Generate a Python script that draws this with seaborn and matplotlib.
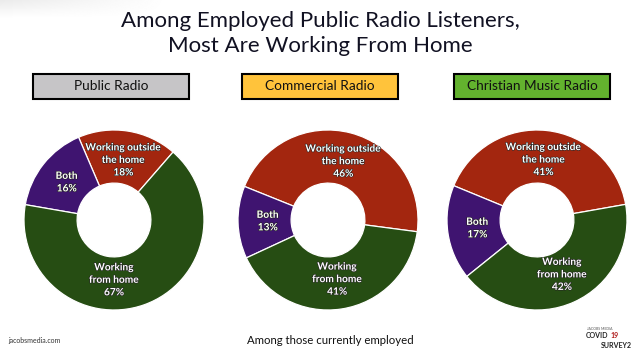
import numpy as np
import matplotlib
matplotlib.use("Agg")
import matplotlib.pyplot as plt
import matplotlib.patheffects as pe
from matplotlib.patches import Rectangle
import seaborn as sns

# data
stations = ["Public Radio", "Commercial Radio", "Christian Music Radio"]
segments = ["Working outside\nthe home", "Both", "Working\nfrom home"]
public_pct = [18, 16, 67]
commercial_pct = [46, 13, 41]
christian_pct = [41, 17, 42]

title_lines = ["Among Employed Public Radio Listeners,", "Most Are Working From Home"]
footnote = "Among those currently employed"
source = "jacobsmedia.com"

sns.set_theme(style="white")
plt.rcParams["font.family"] = ["Lato", "DejaVu Sans"]

seg_colors = ["#A3260F", "#3F1470", "#264D13"]
box_colors = ["#C6C5C7", "#FFC33B", "#63B22E"]

W, H = 640, 352
fig = plt.figure(figsize=(6.4, 3.52), dpi=100)
fig.patch.set_facecolor("white")


def fx(px):
    return px / W


def fy(py):
    # pixel from top -> figure fraction from bottom
    return 1 - py / H


# faint grey shading in the top-left corner, like the slide
grad_ax = fig.add_axes([0, fy(18), fx(170), 18 / H])
gx = np.linspace(1, 0, 200)
gy = np.linspace(0, 1, 20)[:, None]
grad = 0.92 + 0.08 * (1 - np.outer(np.ones_like(gy[:, 0]), gx) * (1 - gy))
grad_ax.imshow(grad, cmap="gray", vmin=0, vmax=1, aspect="auto", extent=[0, 1, 0, 1])
grad_ax.axis("off")

# title
fig.text(0.5, fy(21), title_lines[0], ha="center", va="center", fontsize=16, color="#111122")
fig.text(0.5, fy(46), title_lines[1], ha="center", va="center", fontsize=16, color="#111122")

# header boxes
box_x = [33, 242, 454]
box_w = 156
for name, x0, c in zip(stations, box_x, box_colors):
    fig.patches.append(Rectangle((fx(x0), fy(99)), fx(box_w), 25 / H,
                                 transform=fig.transFigure, facecolor=c,
                                 edgecolor="black", linewidth=1.5))
    fig.text(fx(x0 + box_w / 2), fy(86.5), name, ha="center", va="center",
             fontsize=9.8, color="#111111")

# donuts
centers = [114, 328, 537]
starts = [49, -7.5, 10]
size = 180
for vals, cx, start in zip([public_pct, commercial_pct, christian_pct], centers, starts):
    ax = fig.add_axes([fx(cx - size / 2), fy(220 + size / 2), fx(size), size / H])
    labels = [f"{s}\n{v}%" for s, v in zip(segments, vals)]
    wedges, texts = ax.pie(vals, labels=labels, colors=seg_colors, startangle=start,
                           counterclock=True, radius=1, labeldistance=0.67,
                           wedgeprops=dict(width=0.59, edgecolor="white", linewidth=0.9),
                           textprops=dict(color="white", fontsize=7.3, fontweight="bold"))
    for t in texts:
        t.set_ha("center")
        t.set_va("center")
        t.set_multialignment("center")
        t.set_linespacing(1.5)
        t.set_path_effects([pe.withStroke(linewidth=0.8, foreground="#222222")])
    if cx == centers[0]:
        # label on the big slice sits straight under the hole
        texts[2].set_position((0, -0.67))
    ax.set_xlim(-1, 1)
    ax.set_ylim(-1, 1)
    ax.set_aspect("equal")
    ax.axis("off")

# footer
fig.text(fx(8), fy(341), source, ha="left", va="center", fontsize=5, color="#333333")
fig.text(fx(330), fy(341), footnote, ha="center", va="center", fontsize=8.2, color="#111111")

# small survey logo, bottom right
fig.text(fx(587), fy(329), "JACOBS MEDIA", ha="left", va="center", fontsize=2.5, color="#555555")
fig.text(fx(586), fy(336), "COVID", ha="left", va="center", fontsize=5, fontweight="bold", color="#222222")
fig.text(fx(611), fy(336), "19", ha="left", va="center", fontsize=5, fontweight="bold", color="#B01E1E")
fig.text(fx(601), fy(345), "SURVEY2", ha="left", va="center", fontsize=5, fontweight="bold", color="#222222")

fig.savefig("out.png", dpi=100, facecolor="white")
